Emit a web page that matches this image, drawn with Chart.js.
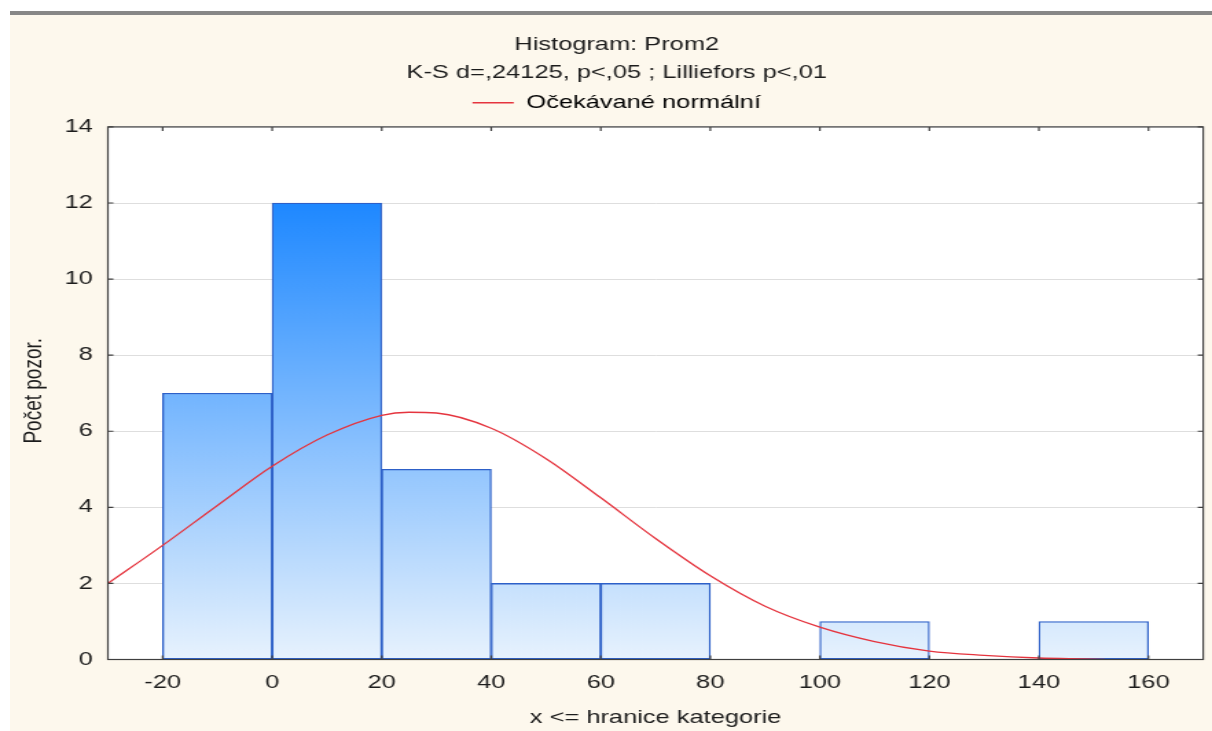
<!DOCTYPE html>
<html><head><meta charset="utf-8">
<script src="https://cdn.jsdelivr.net/npm/chart.js@4.4.1/dist/chart.umd.min.js"></script>
<style>
html,body{margin:0;padding:0;background:#fff;width:1212px;height:731px;overflow:hidden;}
#bg{position:absolute;left:10px;top:11px;width:1202px;height:720px;background:#fdf8ed;border-top:4px solid #878787;box-sizing:border-box;}
#c{position:absolute;left:0;top:0;}
</style></head><body>
<div id="bg"></div>
<canvas id="c" width="882" height="731" style="width:1212px;height:731px"></canvas>
<script>
// ---- data ----
const binStarts = [-20, 0, 20, 40, 60, 80, 100, 120, 140];
const binWidth = 20;
const counts = [7, 12, 5, 2, 2, 0, 1, 0, 1];
const curveX = [-30, -20, -10, 0, 10, 20, 25, 30, 40, 50, 60, 70, 80, 90, 100, 110, 120, 130, 140, 150, 152];
const curveY = [2.0, 3.0, 4.05, 5.08, 5.9, 6.42, 6.5, 6.48, 6.08, 5.28, 4.25, 3.18, 2.2, 1.4, 0.85, 0.47, 0.22, 0.11, 0.04, 0.01, 0.0];
const xTickValues = [-20, 0, 20, 40, 60, 80, 100, 120, 140, 160];
const yTickValues = [0, 2, 4, 6, 8, 10, 12, 14];
const titleText = 'Histogram: Prom2';
const subtitleText = 'K-S d=,24125, p<,05 ; Lilliefors p<,01';
const curveLabel = 'Očekávané normální';
const barLabel = 'Prom2';
const xTitle = 'x <= hranice kategorie';
const yTitle = 'Počet pozor.';

// ---- styles ----
const FAMILY = "'Liberation Sans', Arial, sans-serif";
const FS = 18.5;
const TXT = '#1c1c1c';
const font = {family: FAMILY, size: FS, weight: 'normal'};
const yFrameTop = 14;          // frame drawn at the top tick
const yAxisMax = 14.13;        // small headroom between legend and frame

function plotRect(chart) {
  const a = chart.chartArea, y = chart.scales.y;
  const top = y.getPixelForValue(yFrameTop);
  return {left: a.left, right: a.right, top, bottom: a.bottom};
}
const plotBg = {
  id: 'plotBg',
  beforeDraw(chart) {
    const {ctx} = chart; const r = plotRect(chart);
    ctx.save();
    ctx.fillStyle = '#ffffff';
    ctx.fillRect(r.left, r.top, r.right - r.left, r.bottom - r.top);
    ctx.restore();
  }
};
const frame = {
  id: 'frame',
  afterDraw(chart) {
    const {ctx, scales: {x, y}} = chart; const a = plotRect(chart);
    ctx.save();
    ctx.strokeStyle = '#3f3f3f';
    ctx.lineWidth = 1.2;
    ctx.strokeRect(a.left, a.top, a.right - a.left, a.bottom - a.top);
    ctx.beginPath();
    xTickValues.forEach(v => {
      const px = x.getPixelForValue(v);
      ctx.moveTo(px, a.top); ctx.lineTo(px, a.top + 4);
      ctx.moveTo(px, a.bottom); ctx.lineTo(px, a.bottom - 4);
    });
    yTickValues.forEach(v => {
      const py = y.getPixelForValue(v);
      ctx.moveTo(a.left, py); ctx.lineTo(a.left + 4, py);
      ctx.moveTo(a.right, py); ctx.lineTo(a.right - 4, py);
    });
    ctx.stroke();
    ctx.restore();
  }
};

function barGradient(c) {
  const chart = c.chart;
  if (!chart.chartArea) return '#6aaef8';
  const ys = chart.scales.y;
  const top = ys.getPixelForValue(12), bot = ys.getPixelForValue(0);
  const g = chart.ctx.createLinearGradient(0, top, 0, bot);
  g.addColorStop(0, '#1e88ff');
  g.addColorStop(1, '#e7f2fd');
  return g;
}

new Chart(document.getElementById('c'), {
  type: 'bar',
  data: {
    datasets: [
      {
        type: 'line', label: curveLabel,
        data: curveX.map((vx, i) => ({x: vx, y: curveY[i]})),
        borderColor: '#e5343e', backgroundColor: '#e5343e',
        borderWidth: 1.3, pointRadius: 0, tension: 0.4,
        cubicInterpolationMode: 'monotone', fill: false, order: 0
      },
      {
        type: 'bar', label: barLabel,
        data: binStarts.map((s, i) => ({x: s + binWidth / 2, y: counts[i]})),
        backgroundColor: barGradient,
        borderColor: '#2d60c8', borderWidth: 1.3, borderSkipped: false,
        barPercentage: 1, categoryPercentage: 1, order: 1
      }
    ]
  },
  options: {
    responsive: false,
    devicePixelRatio: 1,
    animation: false,
    layout: {padding: {left: 22, right: 6.4, top: 0, bottom: 0}},
    plugins: {
      tooltip: {enabled: false},
      title: {display: true, text: titleText, font: font, color: TXT, padding: {top: 33.7, bottom: 0}},
      subtitle: {display: true, text: subtitleText, font: font, color: TXT, padding: {top: 5.9, bottom: 0}},
      legend: {
        display: true, position: 'top',
        labels: {
          font: font, color: TXT, boxWidth: 30, boxHeight: 1.5, padding: 9.5,
          generateLabels: (chart) => [{
            text: curveLabel, fillStyle: '#e5343e', strokeStyle: '#e5343e',
            lineWidth: 0, hidden: false, datasetIndex: 0
          }]
        }
      }
    },
    scales: {
      x: {
        type: 'linear', min: -30, max: 170, offset: false,
        afterBuildTicks: s => { s.ticks = xTickValues.map(v => ({value: v})); },
        grid: {display: false, drawTicks: false, offset: false},
        border: {display: false},
        ticks: {font: font, color: TXT, padding: 12, maxRotation: 0, autoSkip: false},
        title: {display: true, text: xTitle, font: font, color: TXT, padding: {top: 0, bottom: 2}},
        afterFit: s => { s.height = 71.5; s.paddingLeft = 0; s.paddingRight = 0; }
      },
      y: {
        type: 'linear', min: 0, max: yAxisMax,
        afterBuildTicks: s => { s.ticks = yTickValues.map(v => ({value: v})); },
        grid: {color: '#dedede', lineWidth: 1, drawTicks: false},
        border: {display: false},
        ticks: {font: font, color: TXT, padding: 11},
        title: {display: true, text: yTitle, font: {family: FAMILY, size: 19, weight: 'normal', lineHeight: 1}, color: TXT, padding: {top: -7, bottom: 0}},
        afterFit: s => { s.width = 56.5; s.paddingTop = 122; s.paddingBottom = 0; }
      }
    }
  },
  plugins: [plotBg, frame]
});
</script>
</body></html>
